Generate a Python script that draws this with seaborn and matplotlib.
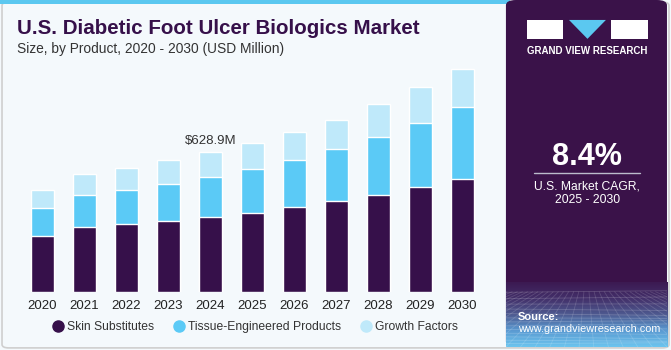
import numpy as np
import pandas as pd
import seaborn as sns
import matplotlib.pyplot as plt
from matplotlib.patches import FancyBboxPatch, Rectangle, Polygon
from matplotlib.colors import LinearSegmentedColormap
import matplotlib.lines as mlines

# Data (USD Million)
years = ["2020", "2021", "2022", "2023", "2024", "2025", "2026", "2027", "2028", "2029", "2030"]
skin_substitutes = [253, 293, 306, 321, 338, 357, 380, 407, 438, 474, 510]
tissue_engineered = [123, 144, 154, 165, 179, 194, 212, 234, 258, 288, 320]
growth_factors = [82, 95, 99, 107, 112, 119, 126, 134, 150, 162, 174]
series_names = ["Skin Substitutes", "Tissue-Engineered Products", "Growth Factors"]
colors = ["#36104A", "#5BCAF6", "#BFE9FA"]
annot_year = "2024"
annot_text = "$628.9M"

df = pd.DataFrame({
    "year": years,
    "skin": skin_substitutes,
    "tissue": tissue_engineered,
    "growth": growth_factors,
})
df["lvl1"] = df["skin"]
df["lvl2"] = df["skin"] + df["tissue"]
df["lvl3"] = df["lvl2"] + df["growth"]

bg = "#F4F9FC"
panel = "#3A1249"
sns.set_style("white")
plt.rcParams["font.family"] = ["Liberation Sans", "DejaVu Sans"]

fig = plt.figure(figsize=(6.71, 3.5), dpi=100)
fig.patch.set_facecolor(bg)

# outer frame + top accent strip
fig.patches.append(FancyBboxPatch((0.003, 0.006), 0.994, 0.988, boxstyle="round,pad=0,rounding_size=0.01",
                                  transform=fig.transFigure, facecolor=bg, edgecolor="#CFCFCF", lw=1.2, zorder=-2))
fig.patches.append(Rectangle((0.0, 0.988), 0.76, 0.012, transform=fig.transFigure,
                             facecolor="#5BC8F0", edgecolor="none", zorder=-1))

# right panel
fig.patches.append(FancyBboxPatch((0.754, 0.009), 0.24, 0.991, boxstyle="round,pad=0,rounding_size=0.015",
                                  transform=fig.transFigure, facecolor=panel, edgecolor="none", zorder=-1))

# gradient + mesh texture at the bottom of the panel
axg = fig.add_axes([0.754, 0.009, 0.24, 0.185])
axg.set_zorder(1)
grad_cmap = LinearSegmentedColormap.from_list("g", ["#6CC4EE", "#5A9AD2", "#4E5A90", "#43306A", "#3C1A52"])
axg.imshow(np.linspace(0, 1, 100).reshape(-1, 1), aspect="auto", cmap=grad_cmap,
           extent=[0, 1, 0, 1], origin="lower")
for k in range(1, 14):
    yy = 1 - (k / 14) ** 0.7
    axg.plot([0, 1], [yy, yy + 0.03 * np.sin(k)], color="white", alpha=0.18, lw=0.6)
for k in range(-10, 22):
    x0 = k / 11
    axg.plot([x0, 0.5 + (x0 - 0.5) * 0.35], [0, 0.85], color="white", alpha=0.15, lw=0.6)
axg.set_xlim(0, 1)
axg.set_ylim(0, 1)
axg.axis("off")

ax = fig.add_axes([0.032, 0.166, 0.688, 0.663])
ax.set_zorder(2)
ax.set_facecolor("none")
for col, c in zip(["lvl3", "lvl2", "lvl1"], colors[::-1]):
    sns.barplot(data=df, x="year", y=col, color=c, width=0.55, ax=ax, saturation=1)

ax.set_xlim(-0.5, len(years) - 0.5)
ax.set_ylim(0, 1044)
ax.set_xlabel("")
ax.set_ylabel("")
ax.set_yticks([])
ax.tick_params(axis="x", length=0, labelsize=9.5, labelcolor="#222222", pad=6)
for s in ax.spines.values():
    s.set_visible(False)

i = years.index(annot_year)
ax.text(i, df["lvl3"][i] + 22, annot_text, ha="center", va="bottom", fontsize=9.5, color="#333333")

# title and subtitle
fig.text(0.025, 0.918, "U.S. Diabetic Foot Ulcer Biologics Market", fontsize=14.8, fontweight="bold",
         color="#36104A", va="center")
fig.text(0.025, 0.86, "Size, by Product, 2020 - 2030 (USD Million)", fontsize=9.9, color="#333333", va="center")

# legend
handles = [mlines.Line2D([], [], marker="o", ls="", color=c, markersize=8) for c in colors]
fig.legend(handles, series_names, loc="center", bbox_to_anchor=(0.379, 0.065), ncol=3, frameon=False,
           fontsize=8.7, handletextpad=0.2, columnspacing=1.4, handlelength=1.2, labelcolor="#333333")

# logo
fig.patches.append(Rectangle((0.785, 0.889), 0.054, 0.054, transform=fig.transFigure, facecolor="white", edgecolor="none", zorder=2))
fig.patches.append(Polygon([[0.848, 0.943], [0.903, 0.943], [0.8755, 0.889]], closed=True, transform=fig.transFigure,
                           facecolor="#5BC8F0", edgecolor="none", zorder=2))
fig.patches.append(Rectangle((0.911, 0.889), 0.055, 0.054, transform=fig.transFigure, facecolor="white", edgecolor="none", zorder=2))
fig.text(0.875, 0.854, "GRAND VIEW RESEARCH", fontsize=7, fontweight="bold", color="white", ha="center", va="center")

# CAGR
fig.text(0.875, 0.552, "8.4%", fontsize=22, fontweight="bold", color="white", ha="center", va="center")
fig.add_artist(mlines.Line2D([0.796, 0.954], [0.507, 0.507], transform=fig.transFigure, color="#BBBBCC", lw=1))
fig.text(0.875, 0.467, "U.S. Market CAGR,", fontsize=8.7, color="white", ha="center", va="center")
fig.text(0.875, 0.428, "2025 - 2030", fontsize=8.7, color="white", ha="center", va="center")

# source
fig.text(0.772, 0.095, "Source:", fontsize=8, fontweight="bold", color="white", va="center", zorder=5)
fig.text(0.772, 0.059, "www.grandviewresearch.com", fontsize=7.8, color="white", va="center", zorder=5)

fig.savefig("out.png", dpi=100, facecolor=bg)
